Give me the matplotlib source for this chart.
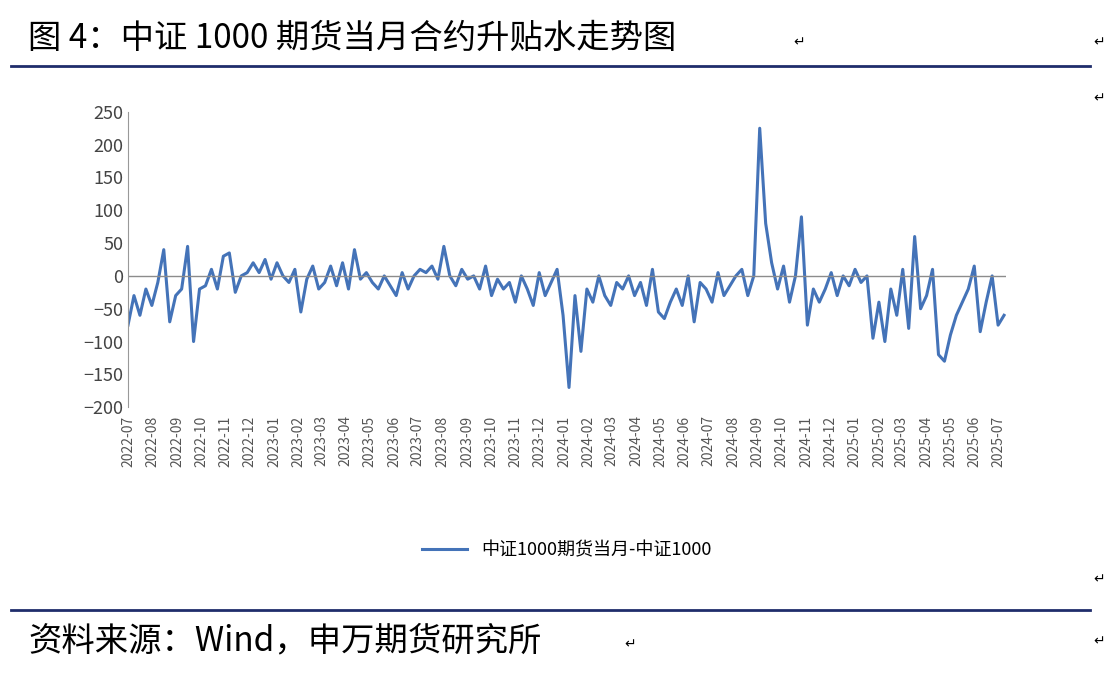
import matplotlib.pyplot as plt
import matplotlib.dates as mdates
from matplotlib.lines import Line2D
import pandas as pd

plt.rcParams['font.family'] = ['Noto Sans CJK SC', 'DejaVu Sans']

START = "2022-07-01"
END = "2025-07-08"
BASIS = [
    -75, -30, -60, -20, -45,
    -10, 40, -70, -30,
    -20, 45, -100, -20,
    -15, 10, -20, 30,
    35, -25, 0, 5,
    20, 5, 25, -5,
    20, 0, -10, 10,
    -55, -5, 15, -20,
    -10, 15, -15, 20,
    -20, 40, -5, 5,
    -10, -20, 0, -15,
    -30, 5, -20, 0,
    10, 5, 15, -5,
    45, 0, -15, 10,
    -5, 0, -20, 15,
    -30, -5, -20, -10,
    -40, 0, -20, -45,
    5, -30, -10, 10,
    -60, -170, -30, -115,
    -20, -40, 0, -30,
    -45, -10, -20, 0,
    -30, -10, -45, 10,
    -55, -65, -40, -20,
    -45, 0, -70, -10,
    -20, -40, 5, -30,
    -15, 0, 10, -30,
    0, 225, 80, 20,
    -20, 15, -40, 0,
    90, -75, -20, -40,
    -20, 5, -30, 0,
    -15, 10, -10, 0,
    -95, -40, -100, -20,
    -60, 10, -80, 60,
    -50, -30, 10, -120,
    -130, -90, -60, -40,
    -20, 15, -85, -40,
    0, -75, -60,
]
dates = pd.date_range(START, END, periods=len(BASIS))

fig = plt.figure(figsize=(11.18, 6.82), dpi=100)
navy = "#1F2D6B"
fig.text(0.025, 0.943, "图 4：中证 1000 期货当月合约升贴水走势图", fontsize=24, va="center")
fig.text(0.71, 0.938, "↵", fontsize=10, va="center", family=['DejaVu Sans'])
for yy in [0.938, 0.855, 0.15, 0.06]:
    fig.text(0.978, yy, "↵", fontsize=10, va="center", family=['DejaVu Sans'])
fig.add_artist(Line2D([0.01, 0.975], [0.903, 0.903], color=navy, lw=2))
fig.add_artist(Line2D([0.01, 0.975], [0.105, 0.105], color=navy, lw=2))
fig.text(0.025, 0.06, "资料来源：Wind，申万期货研究所", fontsize=24, va="center")
fig.text(0.558, 0.055, "↵", fontsize=10, va="center", family=['DejaVu Sans'])

ax = fig.add_axes([0.1145, 0.403, 0.785, 0.433])
ax.plot(dates, BASIS, color="#4473B8", lw=2.2, label="中证1000期货当月-中证1000")
ax.axhline(0, color="#8C8C8C", lw=1)
ax.set_ylim(-200, 250)
ax.set_yticks(range(-200, 251, 50))
ax.set_xlim(pd.Timestamp("2022-07-01"), pd.Timestamp("2025-07-10"))
ax.xaxis.set_major_locator(mdates.MonthLocator())
ax.xaxis.set_major_formatter(mdates.DateFormatter("%Y-%m"))
ax.tick_params(axis="x", rotation=90, labelsize=10, length=0, colors="#555555", pad=6)
ax.tick_params(axis="y", labelsize=13, length=0, colors="#444444")
for s in ["top", "right", "bottom"]:
    ax.spines[s].set_visible(False)
ax.spines["left"].set_color("#999999")
ax.legend(loc="upper center", bbox_to_anchor=(0.5, -0.4), frameon=False, fontsize=13,
          handlelength=2.5)

fig.savefig("out.png", dpi=100)
